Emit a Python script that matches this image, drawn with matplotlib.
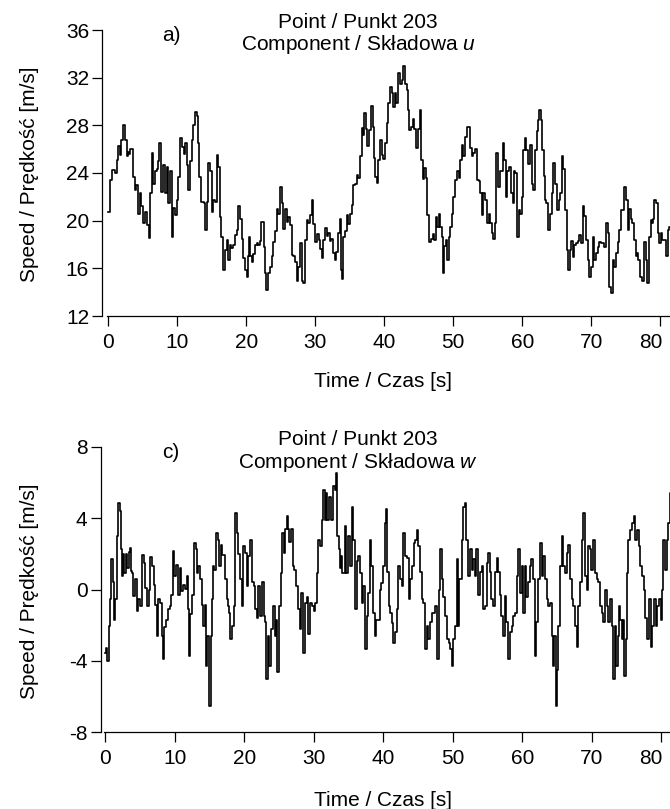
import numpy as np
import matplotlib
matplotlib.use("Agg")
import matplotlib.pyplot as plt
from matplotlib.transforms import ScaledTranslation

plt.rcParams['font.family'] = ['Liberation Sans', 'DejaVu Sans']
plt.rcParams['mathtext.fontset'] = 'custom'
plt.rcParams['mathtext.it'] = 'Liberation Sans:italic'
plt.rcParams['mathtext.rm'] = 'Liberation Sans'
plt.rcParams['axes.unicode_minus'] = False

# ---------------- data: component u ----------------
t_u = [0.0, 0.25, 0.5, 1.0, 1.2, 1.45, 1.7, 1.9, 2.2, 2.4, 2.65, 2.8, 3.0, 3.2, 3.6, 3.9, 4.0, 4.35, 4.6, 4.8,
       5.07, 5.3, 5.55, 5.9, 6.05, 6.3, 6.5, 6.75, 7.0, 7.2, 7.4, 7.6, 7.7, 7.95, 8.2, 8.5, 8.7, 8.9, 9.2, 9.4,
       9.65, 9.9, 10.15, 10.4, 10.65, 10.9, 11.1, 11.35, 11.6, 11.8, 12.1, 12.3, 12.6, 12.8, 13.0, 13.2, 13.4, 13.8, 14.0, 14.3,
       14.5, 14.75, 15.0, 15.2, 15.45, 15.7, 15.95, 16.2, 16.4, 16.65, 16.9, 17.15, 17.4, 17.6, 17.85, 18.1, 18.35, 18.6, 18.85, 19.1,
       19.35, 19.55, 19.8, 20.05, 20.2, 20.4, 20.6, 20.8, 21.0, 21.25, 21.5, 21.75, 21.95, 22.2, 22.5, 22.7, 22.85, 23.1, 23.4, 23.65,
       23.9, 24.15, 24.4, 24.65, 24.9, 25.1, 25.35, 25.6, 25.85, 26.1, 26.35, 26.6, 26.8, 27.05, 27.3, 27.5, 27.8, 28.0, 28.25, 28.5,
       28.75, 29.0, 29.2, 29.5, 29.7, 29.95, 30.2, 30.5, 30.7, 30.9, 31.15, 31.4, 31.65, 31.9, 32.1, 32.3, 32.55, 32.85, 33.0, 33.3,
       33.55, 33.7, 33.85, 34.05, 34.3, 34.55, 34.8, 35.0, 35.3, 35.5, 35.75, 36.0, 36.25, 36.5, 36.7, 36.9, 37.1, 37.3, 37.5, 37.8,
       38.1, 38.3, 38.5, 38.65, 38.95, 39.1, 39.4, 39.6, 39.85, 40.1, 40.35, 40.6, 40.8, 41.05, 41.3, 41.5, 41.75, 42.0, 42.25, 42.5,
       42.75, 43.0, 43.25, 43.5, 43.6, 43.85, 44.1, 44.35, 44.6, 44.85, 45.1, 45.3, 45.55, 45.8, 46.0, 46.25, 46.5, 46.75, 47.0, 47.2,
       47.45, 47.7, 47.9, 48.1, 48.3, 48.45, 48.7, 48.9, 49.1, 49.35, 49.55, 49.75, 50.0, 50.25, 50.5, 50.75, 50.95, 51.2, 51.45, 51.65,
       51.95, 52.15, 52.4, 52.65, 52.9, 53.15, 53.4, 53.65, 53.9, 54.1, 54.35, 54.6, 54.85, 55.1, 55.35, 55.6, 55.8, 56.1, 56.2, 56.45,
       56.7, 56.95, 57.15, 57.4, 57.6, 57.85, 58.1, 58.35, 58.6, 58.8, 58.95, 59.2, 59.45, 59.7, 59.9, 60.15, 60.4, 60.6, 60.85, 61.1,
       61.35, 61.55, 61.85, 62.1, 62.3, 62.45, 62.7, 62.9, 63.1, 63.3, 63.5, 63.75, 64.0, 64.25, 64.5, 64.75, 65.0, 65.25, 65.5, 65.7,
       65.95, 66.2, 66.45, 66.6, 66.85, 67.1, 67.3, 67.55, 67.8, 68.05, 68.25, 68.5, 68.75, 68.95, 69.25, 69.5, 69.7, 69.95, 70.2, 70.45,
       70.7, 70.95, 71.15, 71.4, 71.65, 71.9, 72.1, 72.35, 72.6, 72.85, 73.1, 73.35, 73.6, 73.85, 74.05, 74.3, 74.55, 74.8, 75.0, 75.25,
       75.5, 75.75, 75.95, 76.2, 76.45, 76.6, 76.7, 77.1, 77.35, 77.6, 77.85, 78.1, 78.35, 78.6, 78.85, 79.0, 79.1, 79.35, 79.6, 79.85,
       80.05, 80.3, 80.8, 81.05, 81.2, 81.5]
speed_u = [20.75, 23.4, 24.25, 24.0, 25.1, 26.3, 25.5, 26.8, 28.0, 26.8, 25.4, 25.8, 25.6, 26.0, 23.7, 22.6, 23.0, 20.6, 22.3, 21.2,
           19.8, 20.7, 19.6, 18.55, 22.3, 25.65, 23.1, 24.2, 24.3, 25.0, 26.5, 25.0, 22.4, 24.7, 22.3, 24.5, 21.5, 24.2, 18.65, 21.1,
           20.5, 21.7, 23.7, 26.9, 26.2, 25.6, 26.5, 24.7, 22.6, 25.0, 26.8, 28.0, 29.15, 28.8, 26.5, 23.7, 21.6, 21.5, 19.2, 21.6,
           24.8, 24.2, 20.75, 21.7, 21.6, 25.5, 24.5, 20.3, 18.65, 15.9, 17.55, 18.4, 16.7, 18.0, 17.7, 18.0, 18.8, 19.2, 21.2, 20.1,
           18.5, 16.85, 15.9, 15.3, 17.0, 18.65, 17.0, 16.55, 17.2, 18.0, 18.1, 18.0, 18.3, 19.9, 17.8, 15.6, 14.2, 15.6, 16.1, 17.0,
           18.25, 19.1, 21.0, 20.6, 22.85, 21.5, 19.3, 21.0, 19.9, 20.3, 19.6, 17.1, 17.0, 16.5, 14.9, 16.1, 18.1, 14.9, 14.75, 18.4,
           20.05, 19.8, 20.5, 21.75, 19.7, 18.25, 18.9, 18.4, 17.6, 16.85, 18.4, 19.35, 18.7, 19.0, 18.3, 18.5, 17.3, 16.7, 17.4, 18.95,
           20.1, 15.9, 15.1, 18.65, 19.1, 20.5, 19.7, 20.6, 21.3, 23.0, 23.1, 23.8, 23.6, 25.4, 27.75, 27.2, 29.0, 27.7, 26.3, 27.6,
           29.6, 27.9, 25.3, 23.7, 23.2, 25.1, 26.8, 25.5, 25.2, 26.5, 28.2, 29.85, 31.25, 30.7, 29.55, 30.7, 29.9, 32.35, 31.5, 31.8,
           33.0, 31.5, 31.0, 29.3, 27.6, 27.9, 28.5, 27.7, 26.1, 27.7, 29.3, 25.1, 23.5, 24.4, 23.6, 20.5, 18.25, 18.5, 18.9, 18.4,
           20.3, 19.5, 20.6, 19.5, 18.6, 15.6, 17.85, 18.4, 16.7, 18.65, 19.5, 20.6, 21.95, 23.4, 24.2, 23.6, 25.1, 26.35, 25.4, 27.0,
           27.9, 27.9, 26.1, 25.4, 25.7, 26.0, 23.4, 23.3, 22.3, 20.5, 22.3, 21.7, 19.8, 20.6, 19.8, 19.0, 18.5, 19.8, 25.65, 22.8,
           24.2, 24.2, 26.5, 25.1, 22.0, 24.2, 24.5, 22.3, 21.45, 24.2, 24.0, 18.65, 20.9, 20.6, 22.0, 25.9, 26.9, 25.9, 24.75, 26.35,
           23.1, 22.55, 25.9, 27.5, 28.45, 29.3, 28.45, 25.9, 23.75, 21.75, 21.5, 19.2, 20.6, 22.3, 24.8, 23.1, 20.9, 21.7, 22.3, 25.4,
           24.3, 20.9, 17.55, 15.9, 17.55, 18.3, 16.95, 18.0, 18.1, 18.3, 18.8, 18.1, 21.2, 20.35, 18.4, 16.7, 15.3, 16.1, 18.65, 16.7,
           17.3, 17.8, 18.25, 18.1, 18.1, 17.8, 19.8, 19.0, 14.45, 13.9, 16.7, 16.1, 17.3, 18.25, 19.2, 20.9, 20.9, 22.85, 21.7, 19.2,
           21.0, 20.1, 19.8, 18.4, 17.0, 17.3, 16.7, 15.3, 14.9, 18.25, 16.7, 14.75, 18.65, 20.05, 19.8, 20.1, 21.75, 21.5, 18.95, 18.1,
           18.95, 18.4, 17.0, 19.2, 19.5, 19.5]

# ---------------- data: component w ----------------
t_w = [0.0, 0.1, 0.2, 0.5, 0.7, 0.85, 1.1, 1.2, 1.45, 1.65, 1.9, 2.05, 2.2, 2.4, 2.55, 2.75, 2.95, 3.15, 3.35, 3.55,
       3.7, 3.85, 4.0, 4.3, 4.5, 4.75, 5.0, 5.25, 5.5, 5.75, 6.0, 6.25, 6.45, 6.7, 6.95, 7.2, 7.4, 7.65, 7.9, 8.15,
       8.25, 8.45, 8.75, 9.0, 9.25, 9.5, 9.7, 9.95, 10.2, 10.45, 10.7, 10.95, 11.2, 11.45, 11.7, 11.9, 12.0, 12.2, 12.45, 12.7,
       12.8, 13.05, 13.2, 13.4, 13.6, 13.85, 14.1, 14.3, 14.5, 14.7, 14.9, 14.95, 15.15, 15.3, 15.45, 15.7, 15.9, 16.15, 16.4, 16.6,
       16.85, 17.2, 17.45, 17.65, 17.8, 17.95, 18.2, 18.45, 18.7, 18.9, 19.1, 19.4, 19.6, 19.85, 20.1, 20.35, 20.6, 20.8, 21.1, 21.35,
       21.6, 21.85, 22.0, 22.3, 22.55, 22.8, 23.05, 23.1, 23.35, 23.6, 23.85, 24.1, 24.35, 24.6, 24.75, 25.0, 25.25, 25.4, 25.65, 25.9,
       26.1, 26.3, 26.5, 26.7, 26.95, 27.2, 27.45, 27.7, 27.95, 28.2, 28.5, 28.75, 29.0, 29.2, 29.45, 29.7, 30.0, 30.2, 30.4, 30.65,
       30.9, 31.15, 31.35, 31.6, 31.75, 31.95, 32.2, 32.45, 32.8, 33.0, 33.2, 33.4, 33.6, 33.75, 33.95, 34.1, 34.5, 34.7, 34.9, 35.15,
       35.45, 35.7, 35.9, 36.15, 36.4, 36.65, 36.9, 37.15, 37.35, 37.6, 37.85, 38.05, 38.3, 38.55, 38.8, 39.0, 39.25, 39.5, 39.7, 39.95,
       40.25, 40.35, 40.55, 40.75, 41.0, 41.2, 41.45, 41.7, 41.95, 42.15, 42.4, 42.65, 42.9, 43.15, 43.4, 43.65, 43.9, 44.15, 44.4, 44.6,
       44.8, 45.05, 45.25, 45.5, 45.75, 46.0, 46.25, 46.5, 46.7, 46.95, 47.2, 47.4, 47.7, 47.95, 48.15, 48.4, 48.65, 48.9, 49.15, 49.4,
       49.65, 49.85, 50.05, 50.3, 50.55, 50.75, 50.95, 51.3, 51.5, 51.75, 51.95, 52.2, 52.45, 52.7, 52.95, 53.2, 53.4, 53.65, 53.9, 54.15,
       54.4, 54.6, 54.85, 55.1, 55.3, 55.55, 55.8, 56.05, 56.3, 56.55, 56.75, 56.95, 57.25, 57.45, 57.7, 58.0, 58.2, 58.45, 58.7, 58.95,
       59.2, 59.4, 59.65, 59.9, 60.1, 60.35, 60.6, 60.85, 61.05, 61.3, 61.55, 61.8, 62.0, 62.3, 62.55, 62.8, 63.0, 63.3, 63.5, 63.75,
       64.0, 64.25, 64.4, 64.6, 64.85, 65.05, 65.2, 65.4, 65.65, 65.9, 66.15, 66.4, 66.6, 66.85, 67.1, 67.35, 67.55, 67.8, 68.05, 68.3,
       68.55, 68.8, 69.0, 69.25, 69.5, 69.7, 69.95, 70.2, 70.45, 70.7, 70.95, 71.15, 71.4, 71.65, 71.9, 72.15, 72.4, 72.65, 72.85, 73.0,
       73.3, 73.5, 73.75, 73.9, 74.1, 74.35, 74.5, 74.65, 74.85, 75.0, 75.25, 75.5, 75.75, 76.0, 76.25, 76.5, 76.75, 77.0, 77.2, 77.45,
       77.7, 77.95, 78.2, 78.45, 78.7, 78.95, 79.2, 79.45, 79.7, 79.9, 80.15, 80.3, 80.55, 80.8, 81.0, 81.25, 81.5]
speed_w = [-3.55, -3.3, -4.0, -2.05, -0.55, 1.7, 0.4, -1.7, -0.55, 3.0, 4.85, 4.4, 2.25, 0.75, 2.0, 0.9, 2.0, 1.2, 2.1, 2.35,
           1.05, 0.9, -0.35, 0.6, -1.2, -0.55, -0.95, 1.95, 1.5, 0.1, -0.95, -0.05, 1.85, 1.3, 0.25, -0.85, -2.6, -0.55, -0.75, -2.6,
           -3.9, -2.1, -1.7, -1.1, -0.95, -0.3, 2.15, 0.75, 1.4, -0.3, 1.2, -0.1, 0.25, 0.05, 0.75, -1.1, -3.75, -1.35, -0.3, 0.6,
           2.6, 2.25, 0.9, 1.3, 0.6, -0.85, -2.05, -0.85, -4.3, -2.6, -5.4, -6.55, -2.6, -0.55, 1.3, 1.1, 3.2, 2.8, 1.3, 2.5,
           1.95, 0.6, -0.55, -0.95, -1.3, -2.8, -2.05, -0.95, 4.3, 3.2, 2.0, 0.6, -0.95, 2.45, 2.05, 0.2, 1.9, 2.8, 0.4, 0.2,
           -1.1, -1.6, 0.2, -1.5, 0.4, -1.5, -1.85, -5.05, -2.6, -4.3, -2.2, -0.95, -2.6, -1.7, -4.65, -0.95, 0.9, 3.2, 2.05, 3.4,
           4.1, 3.4, 2.65, 3.4, 1.3, 1.1, 0.2, -1.1, -2.2, -0.2, -3.55, -0.75, -0.4, -2.5, -0.75, -0.95, -1.2, -0.75, 0.95, 2.8,
           2.45, 3.9, 5.6, 3.9, 5.4, 3.9, 5.2, 3.9, 5.8, 5.6, 6.55, 3.0, 2.3, 1.2, 1.9, 0.9, 3.55, 0.9, 3.0, 1.3,
           4.65, 2.8, -1.1, 1.6, 1.9, 0.9, -0.75, 0.2, -3.35, -1.5, -0.2, 2.8, 1.3, -1.3, -2.6, -1.7, -1.7, 0.0, 0.35, 1.3,
           3.75, 4.5, 1.0, -0.95, -1.3, -1.9, -3.0, -2.4, -1.1, 1.3, 0.6, 0.2, 3.2, 1.9, 1.75, -0.55, 0.6, 1.3, 2.6, 2.8,
           3.35, 2.45, 1.0, -0.55, -0.75, -3.35, -2.05, -2.8, -1.85, -1.3, -1.3, -0.95, -3.9, 0.0, 2.25, 0.6, -0.4, -1.5, -2.8, -3.0,
           -3.35, -4.3, -2.8, -2.05, 1.7, -2.05, 0.6, 2.8, 4.65, 4.85, 2.8, 0.75, 2.25, 1.1, 1.7, 0.75, 2.25, -0.3, 1.0, 1.3,
           -1.1, -0.95, 1.5, 2.05, 1.0, -0.55, -0.95, 1.0, 1.75, 1.0, -0.3, -1.5, -2.6, -0.35, -1.85, -3.9, -2.4, -2.05, -1.5, -1.3,
           0.75, 2.25, -0.2, 1.3, -1.3, 1.3, -0.4, 0.4, 1.3, 1.7, 0.6, -3.75, -1.85, 0.6, 2.6, 0.75, 1.9, 0.6, -0.55, -0.95,
           -0.75, -2.6, -4.3, -2.6, -6.55, -4.5, -2.05, 1.3, 3.0, 1.3, 0.9, 2.05, 2.5, 0.6, -0.55, -0.95, -2.05, -3.2, -0.95, 0.4,
           2.8, 4.3, 0.75, 0.0, 2.45, 2.25, 1.1, 2.8, 0.9, 0.6, 0.4, -0.95, -1.3, -1.85, 0.0, -0.95, -1.85, -0.55, -2.05, -5.05,
           -2.05, -4.3, -2.6, -0.95, -1.7, -2.8, -1.7, -4.85, -2.8, 0.95, 2.8, 3.35, 3.75, 4.1, 2.8, 3.35, 2.45, 1.3, 0.75, 0.0,
           -1.6, -2.8, -0.55, -3.2, -2.05, -0.55, -2.05, -0.95, -0.55, -1.7, 0.0, 2.8, 1.1, 2.8, 3.75, 5.4, 5.4]

x_ticks = [0, 10, 20, 30, 40, 50, 60, 70, 80]
u_ticks = [12, 16, 20, 24, 28, 32, 36]
w_ticks = [-8, -4, 0, 4, 8]

W, H = 670, 809
fig = plt.figure(figsize=(W / 100, H / 100), dpi=100)


def px_rect(left, top, right, bottom):
    return [left / W, 1 - bottom / H, (right - left) / W, (bottom - top) / H]


def fx(px):
    return px / W


def fy(py):
    return 1 - py / H


FS = 15
panels = [
    dict(rect=px_rect(107, 30, 670, 316), t=t_u, v=speed_u, ylim=(12, 36), yt=u_ticks,
         xlim=(-0.19, 81.4), off=3.4, tag='a)', comp='u', top=30, ylc=174, xlc=382),
    dict(rect=px_rect(104.3, 447, 670, 732), t=t_w, v=speed_w, ylim=(-8, 8), yt=w_ticks,
         xlim=(-0.14, 81.25), off=2.6, tag='c)', comp='w', top=447, ylc=591, xlc=800),
]

shift_left = ScaledTranslation(-10 / 100, 0, fig.dpi_scale_trans)

for p in panels:
    ax = fig.add_axes(p['rect'])
    ax.step(p['t'], p['v'], where='post', color='black', lw=1.2)
    ax.set_xlim(*p['xlim'])
    ax.set_ylim(*p['ylim'])
    ax.set_xticks(x_ticks)
    ax.set_yticks(p['yt'])
    ax.spines['top'].set_visible(False)
    ax.spines['right'].set_visible(False)
    ax.spines['left'].set_position(('outward', p['off']))
    for s in ('left', 'bottom'):
        ax.spines[s].set_linewidth(0.9)
    ax.tick_params(direction='out', length=7.5, width=0.9, labelsize=FS, pad=2)
    ax.tick_params(axis='x', pad=5)
    # keep the last tick label inside the figure, as in the reference
    last = ax.xaxis.get_major_ticks()[len(x_ticks) - 1].label1
    last.set_transform(last.get_transform() + shift_left)
    ax.patch.set_alpha(0)
    top = p['top']
    fig.text(fx(162), fy(top + 11), p['tag'], fontsize=FS, ha='left', va='baseline')
    fig.text(fx(358), fy(top - 2), 'Point / Punkt 203', fontsize=FS, ha='center', va='baseline')
    fig.text(fx(358), fy(top + 20.5), 'Component / Składowa $\\mathit{' + p['comp'] + '}$',
             fontsize=FS, ha='center', va='baseline')
    fig.text(fx(30), fy(p['ylc']), 'Speed / Prędkość [m/s]', fontsize=FS, rotation=90,
             ha='center', va='center')
    fig.text(fx(383), fy(p['xlc']), 'Time / Czas [s]', fontsize=FS, ha='center', va='center')

fig.savefig('out.png', dpi=100)
